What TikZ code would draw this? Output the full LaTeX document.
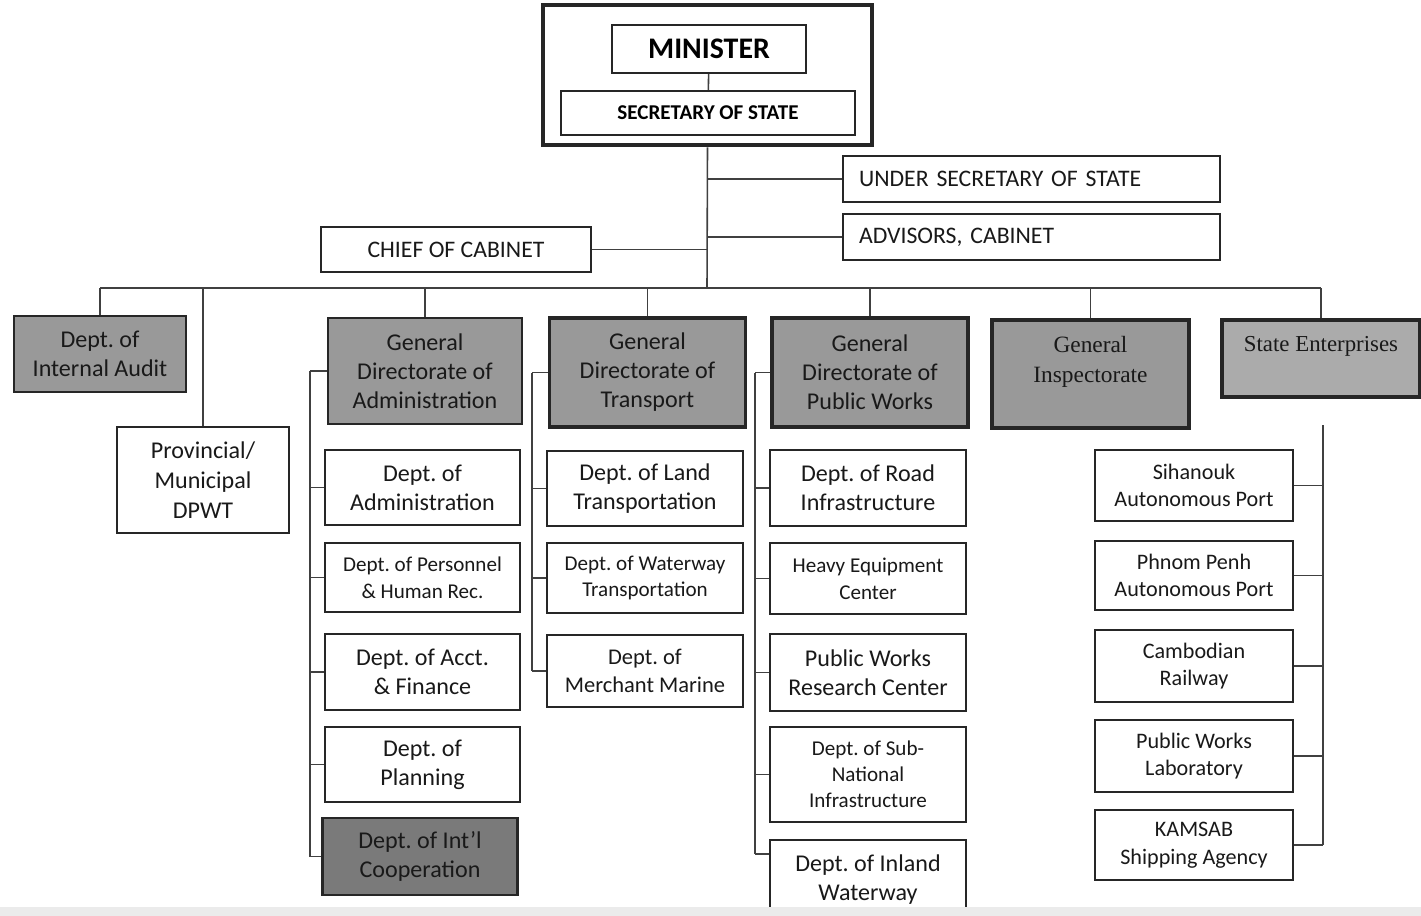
\documentclass[tikz,border=0pt]{standalone}
\usepackage{fontspec}
\setmainfont{Carlito}
\newfontfamily\garamond{Liberation Serif}
\usetikzlibrary{positioning, calc}
\frenchspacing

\begin{document}
\begin{tikzpicture}[x=0.02cm, y=-0.02cm,
                    box/.style={draw=black!85, line width=1.3pt, fill=white, align=center, inner sep=2pt,
                                text=black!90, font=\fontsize{13.7}{16.5}\selectfont},
                    small/.style={font=\fontsize{12}{15.3}\selectfont},
                    shaded/.style={fill=black!40},
                    head/.style={box, shaded, line width=2pt, minimum width=3.92cm, minimum height=2.18cm},
                    sub/.style={box, minimum width=3.9cm, minimum height=1.5cm},
                    wide/.style={box, text width=6.9cm, inner xsep=0.32cm, align=left, minimum height=0.92cm,
                                 font=\fontsize{13.5}{16}\selectfont},
                    conn/.style={draw=black!75, line width=0.9pt}]
    \useasboundingbox (0,0) rectangle (1421,916);

    % Top offices
    \node[box, line width=2.6pt, minimum width=6.58cm, minimum height=2.8cm] (mbox) at (707.5, 75) {};
    \node[box, text=black, minimum width=3.88cm, minimum height=0.96cm, font=\bfseries\fontsize{17}{20}\selectfont] (min) at (709, 49) {MINISTER};
    \node[box, text=black, minimum width=5.88cm, minimum height=0.88cm, font=\bfseries\fontsize{12}{14}\selectfont] (sec) at (708, 113) {SECRETARY OF STATE};
    \node[wide] (usec) at (1031.5, 179) {UNDER SECRETARY OF STATE};
    \node[wide] (adv) at (1031.5, 237) {ADVISORS, CABINET};
    \node[box, minimum width=5.4cm, minimum height=0.9cm, font=\fontsize{13.5}{16}\selectfont] (chief) at (456, 249.5) {CHIEF OF CABINET};
    \coordinate (hub) at (707, 288);

    % Second row
    \node[box, shaded, minimum width=3.44cm, minimum height=1.52cm] (audit) at (100, 354) {Dept. of\\Internal Audit};
    \node[box, minimum width=3.44cm, minimum height=2.12cm, font=\fontsize{13.7}{17}\selectfont] (prov) at (203, 480) {Provincial/\\Municipal\\DPWT};
    \node[head, line width=1.6pt, minimum width=3.88cm, minimum height=2.12cm] (gdadm) at (425, 371) {General\\Directorate of\\Administration};
    \node[head] (gdtr) at (647.5, 372.5) {General\\Directorate of\\Transport};
    \node[head] (gdpw) at (870, 372.5) {General\\Directorate of\\Public Works};
    \node[head, minimum width=3.94cm, minimum height=2.16cm, font=\garamond\fontsize{13.3}{17}\selectfont] (insp) at (1090.5, 374) {General\\Inspectorate\\~};
    \node[box, fill=black!33, line width=1.8pt, minimum width=3.96cm, minimum height=1.54cm, font=\garamond\fontsize{13}{17}\selectfont] (se) at (1321, 358.5) {State Enterprises\\~};

    % Administration
    \node[sub] (dadm) at (422.5, 487.5) {Dept. of\\Administration};
    \node[sub, small, minimum height=1.38cm] (dper) at (422.5, 577.5) {Dept. of Personnel\\\& Human Rec.};
    \node[sub, minimum height=1.52cm] (dacc) at (422.5, 672) {Dept. of Acct.\\\& Finance};
    \node[sub] (dpla) at (422.5, 764.5) {Dept. of\\Planning};
    \node[sub, fill=black!52, text=black!90, minimum height=1.54cm] (dint) at (420, 856.5) {Dept. of Int'l\\Cooperation};

    % Transport
    \node[sub, minimum width=3.92cm] (dland) at (645, 488.5) {Dept. of Land\\Transportation};
    \node[sub, small, minimum width=3.92cm, minimum height=1.4cm] (dwat) at (645, 578) {Dept. of Waterway\\Transportation};
    \node[sub, minimum width=3.92cm, minimum height=1.44cm, font=\fontsize{12.8}{16}\selectfont] (dmer) at (645, 671) {Dept. of\\Merchant Marine};

    % Public Works
    \node[sub, minimum width=3.92cm, minimum height=1.52cm] (droad) at (868, 488) {Dept. of Road\\Infrastructure};
    \node[sub, small, minimum width=3.92cm, minimum height=1.42cm] (dheavy) at (868, 578.5) {Heavy Equipment\\Center};
    \node[sub, minimum width=3.92cm, minimum height=1.54cm] (dres) at (868, 672.5) {Public Works\\Research Center};
    \node[sub, small, minimum width=3.92cm, minimum height=1.9cm, font=\fontsize{12}{14.8}\selectfont] (dsub) at (868, 774.5) {Dept. of Sub-\\National\\Infrastructure};
    \node[sub, minimum width=3.92cm, minimum height=1.6cm] (dinl) at (868, 880) {Dept. of Inland\\Waterway};

    % State enterprises
    \node[sub, small, minimum width=3.96cm, minimum height=1.42cm, font=\fontsize{12.6}{15.8}\selectfont] (sih) at (1194, 485.5) {Sihanouk\\Autonomous Port};
    \node[sub, small, minimum width=3.96cm, minimum height=1.38cm, font=\fontsize{12.6}{15.8}\selectfont] (ppn) at (1194, 575.5) {Phnom Penh\\Autonomous Port};
    \node[sub, small, minimum width=3.96cm, minimum height=1.44cm, font=\fontsize{12.6}{15.8}\selectfont] (rail) at (1194, 666) {Cambodian\\Railway};
    \node[sub, small, minimum width=3.96cm, minimum height=1.44cm, font=\fontsize{12.6}{15.8}\selectfont] (lab) at (1194, 756) {Public Works\\Laboratory};
    \node[sub, small, minimum width=3.96cm, minimum height=1.4cm, font=\fontsize{12.6}{15.8}\selectfont] (kam) at (1194, 845) {KAMSAB\\Shipping Agency};

    % Rails
    \coordinate (railA) at (310, 371);
    \coordinate (railT) at (532, 372.5);
    \coordinate (railP) at (755, 372.5);
    \coordinate (railS) at (1323, 425);
    \coordinate (tickI) at ($(dinl.north west)+(0,15)$);

    % Connectors
    \path[conn]
    % top
    (min) edge (sec)
    (mbox.south) edge (hub)
    (usec.west) edge (usec.west -| hub)
    (adv.west) edge (adv.west -| hub)
    (chief.east) edge (chief.east -| hub)
    (audit.north |- hub) edge (se.north |- hub)

    % drops
    (audit.north) edge (audit.north |- hub)
    (prov.north) edge (prov.north |- hub)
    (gdadm.north) edge (gdadm.north |- hub)
    (gdtr.north) edge (gdtr.north |- hub)
    (gdpw.north) edge (gdpw.north |- hub)
    (insp.north) edge (insp.north |- hub)
    (se.north) edge (se.north |- hub)

    % Administration
    (gdadm.west) edge (railA)
    (railA) edge (railA |- dint.west)
    (dadm.west) edge (dadm.west -| railA)
    (dper.west) edge (dper.west -| railA)
    (dacc.west) edge (dacc.west -| railA)
    (dpla.west) edge (dpla.west -| railA)
    (dint.west) edge (dint.west -| railA)

    % Transport
    (gdtr.west) edge (railT)
    (railT) edge (railT |- dmer.west)
    (dland.west) edge (dland.west -| railT)
    (dwat.west) edge (dwat.west -| railT)
    (dmer.west) edge (dmer.west -| railT)

    % Public Works
    (gdpw.west) edge (railP)
    (railP) edge (railP |- tickI)
    (droad.west) edge (droad.west -| railP)
    (dheavy.west) edge (dheavy.west -| railP)
    (dres.west) edge (dres.west -| railP)
    (dsub.west) edge (dsub.west -| railP)
    (tickI) edge (tickI -| railP)

    % State enterprises
    (railS) edge (railS |- kam.east)
    (sih.east) edge (sih.east -| railS)
    (ppn.east) edge (ppn.east -| railS)
    (rail.east) edge (rail.east -| railS)
    (lab.east) edge (lab.east -| railS)
    (kam.east) edge (kam.east -| railS);

    \fill[black!8] (0,907) rectangle (1421,916);
\end{tikzpicture}
\end{document}
